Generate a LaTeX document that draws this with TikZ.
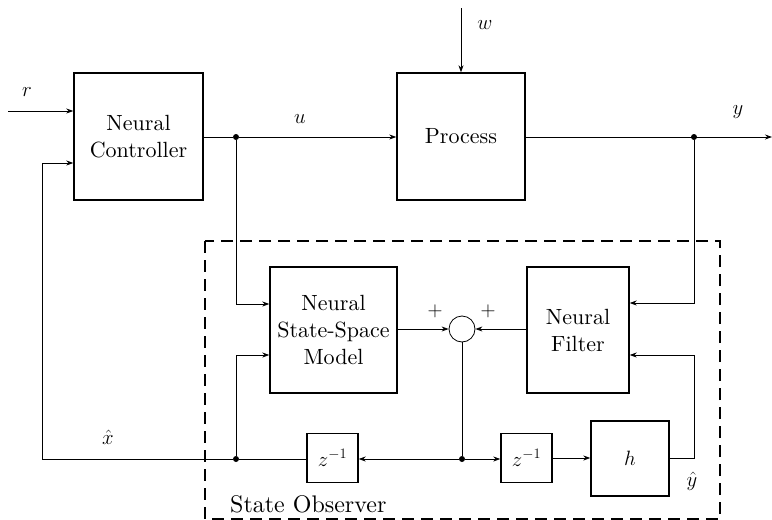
\documentclass[tikz,border=0pt]{standalone}
\usepackage{fontspec}
\setmainfont{lmroman10-regular.otf}
\usetikzlibrary{arrows.meta,calc}
\begin{document}
\begin{tikzpicture}[x=1pt,y=-1pt,
  blk/.style={draw,line width=1.4pt,inner sep=0pt,align=center,font=\fontsize{22}{27}\selectfont},
  lbl/.style={font=\fontsize{22}{27}\selectfont,inner sep=0pt},
  conn/.style={line width=0.8pt},
  arr/.style={conn,-{Stealth[length=7pt,width=5pt]}},
  dotc/.style={circle,fill,inner sep=0pt,minimum size=6pt}]
\useasboundingbox (0,0) rectangle (772,520);
% blocks
\node[blk,minimum width=129pt,minimum height=127pt] (NC) at (138.5,136.5) {Neural\\Controller};
\node[blk,minimum width=128pt,minimum height=127pt] (P) at (461,136.5) {Process};
\node[blk,minimum width=127pt,minimum height=126pt] (NS) at (333.5,330) {Neural\\State-Space\\Model};
\node[blk,minimum width=102pt,minimum height=126pt] (NF) at (578,330) {Neural\\Filter};
\node[blk,minimum width=78pt,minimum height=75pt] (H) at (630,458.5) {$h$};
\node[blk,minimum width=51pt,minimum height=49pt] (Z1) at (526.5,458) {$z^{-1}$};
\node[blk,minimum width=51pt,minimum height=49pt] (Z2) at (332.5,458) {$z^{-1}$};
\node[draw,circle,line width=0.8pt,minimum size=26pt,inner sep=0pt] (S) at (462,329) {};
% dashed box
\draw[line width=1.4pt,dash pattern=on 12pt off 7pt] (205,241) rectangle (720,519);
\node[lbl,anchor=base west,font=\fontsize{24}{28}\selectfont] (SO) at (230,512) {State Observer};
% coordinates
\coordinate (rin) at (8,111);
\coordinate (win) at (461,8);
\coordinate (yout) at (772,137);
\node[dotc] (du) at (236,137) {};
\node[dotc] (dy) at (694,137) {};
\node[dotc] (dx) at (236,459) {};
\node[dotc] (ds) at (462,459) {};
\coordinate (fb) at (42,459);
\coordinate (hc) at (694,458);
% connectors
\draw[arr] (rin) -- (rin -| NC.west);
\draw[arr] (NC.east |- du) -- (du) -- (du -| P.west);
\draw[arr] (win) -- (P.north);
\draw[arr] (P.east |- dy) -- (yout);
\draw[arr] (dy) |- ([yshift=27pt]NF.east);
\draw[arr] (du) |- ([yshift=26pt]NS.west);
\draw[arr] (dx) |- ([yshift=-25pt]NS.west);
\draw[arr] (NS.east |- S) -- (S.west);
\draw[arr] (NF.west |- S) -- (S.east);
\draw[conn] (S.south) -- (ds);
\draw[arr] (ds) -- (ds -| Z1.west);
\draw[arr] (Z1.east) -- (Z1.east -| H.west);
\draw[arr] (H.east |- hc) -- (hc) |- ([yshift=-25pt]NF.east);
\draw[arr] (ds) -- (ds -| Z2.east);
\draw[conn] (Z2.west |- dx) -- (dx) -- (fb);
\draw[arr] (fb) |- ([yshift=-26.5pt]NC.west);
% labels
\node[lbl] (lr) at (27,92) {$r$};
\node[lbl] (lu) at (300,119) {$u$};
\node[lbl] (lw) at (485,25) {$w$};
\node[lbl] (ly) at (738,112) {$y$};
\node[lbl] (lx) at (108,437) {$\hat{x}$};
\node[lbl] (lyh) at (692,481) {$\hat{y}$};
\node[lbl] (p1) at (435,311) {$+$};
\node[lbl] (p2) at (488,311) {$+$};
\end{tikzpicture}
\end{document}
